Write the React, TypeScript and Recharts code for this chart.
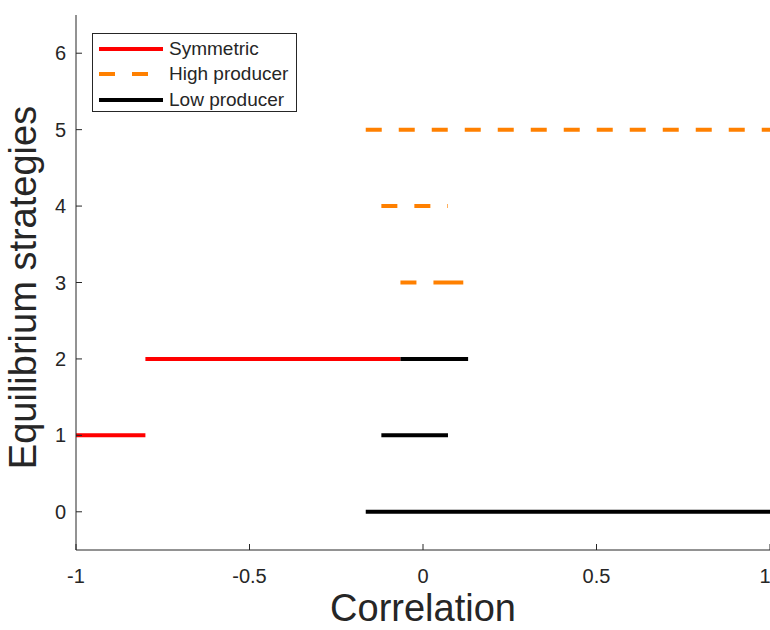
import { LineChart, Line, XAxis, YAxis } from "recharts";

// segment data: level, start and end correlation of each piece
const symmetricLevels = [1, 2];
const symmetricStart = [-1, -0.8];
const symmetricEnd = [-0.8, -0.065];

const highLevels = [5, 4, 3, 3];
const highStart = [-0.165, -0.12, -0.065, 0.07];
const highEnd = [1, 0.072, 0.07, 0.13];

const lowLevels = [0, 1, 2];
const lowStart = [-0.165, -0.12, -0.065];
const lowEnd = [1, 0.072, 0.13];

const xTicks = [-1, -0.5, 0, 0.5, 1];
const yTicks = [0, 1, 2, 3, 4, 5, 6];

type Pt = { x: number; y: number | null };

function segments(levels: number[], start: number[], end: number[]): Pt[] {
  const out: Pt[] = [];
  levels.forEach((lv, i) => {
    if (i > 0) out.push({ x: start[i], y: null });
    out.push({ x: start[i], y: lv });
    out.push({ x: end[i], y: lv });
  });
  return out;
}

const series = [
  { name: "Symmetric", color: "#ff0000", dash: undefined, data: segments(symmetricLevels, symmetricStart, symmetricEnd) },
  { name: "High producer", color: "#ff8000", dash: "16 17", data: segments(highLevels, highStart, highEnd) },
  { name: "Low producer", color: "#000000", dash: undefined, data: segments(lowLevels, lowStart, lowEnd) },
];

const font = "'Liberation Sans', Arial, sans-serif";
const ink = "#262626";

function BoxLegend() {
  return (
    <div
      style={{
        position: "absolute",
        left: 92,
        top: 33,
        border: "1px solid #262626",
        background: "#fff",
        width: 205,
        height: 79,
        boxSizing: "border-box",
        padding: "2px 0 0 6px",
        fontFamily: font,
        fontSize: 19,
        color: ink,
      }}
    >
      {series.map((s) => (
        <div key={s.name} style={{ display: "flex", alignItems: "center", height: 25.5 }}>
          <svg width={64} height={6} style={{ marginRight: 6 }}>
            <line x1={0} y1={3} x2={64} y2={3} stroke={s.color} strokeWidth={4} strokeDasharray={s.dash} />
          </svg>
          <span>{s.name}</span>
        </div>
      ))}
    </div>
  );
}

export default function App() {
  return (
    <div style={{ position: "absolute", left: 0, top: 0, width: 770, height: 630, background: "#fff" }}>
      <LineChart width={770} height={630} margin={{ top: 15, right: 0, bottom: 0, left: 0 }}>
        <XAxis
          type="number"
          dataKey="x"
          domain={[-1, 1]}
          ticks={xTicks}
          allowDataOverflow
          height={80}
          stroke={ink}
          tickSize={-6}
          tickMargin={25}
          tick={{ fill: ink, fontSize: 20, fontFamily: font }}
          label={{ value: "Correlation", position: "center", dy: 18, fill: ink, fontSize: 38, fontFamily: font }}
        />
        <YAxis
          type="number"
          dataKey="y"
          domain={[-0.5, 6.5]}
          ticks={yTicks}
          allowDataOverflow
          width={76}
          stroke={ink}
          tickSize={-6}
          tickMargin={16}
          tick={{ fill: ink, fontSize: 20, fontFamily: font }}
          label={{
            value: "Equilibrium strategies",
            angle: -90,
            position: "center",
            dx: -15,
            dy: 5,
            fill: ink,
            fontSize: 38,
            fontFamily: font,
          }}
        />
        {series.map((s) => (
          <Line
            key={s.name}
            data={s.data}
            dataKey="y"
            name={s.name}
            stroke={s.color}
            strokeWidth={4}
            strokeDasharray={s.dash}
            dot={false}
            activeDot={false}
            isAnimationActive={false}
            connectNulls={false}
          />
        ))}
      </LineChart>
      <BoxLegend />
    </div>
  );
}
